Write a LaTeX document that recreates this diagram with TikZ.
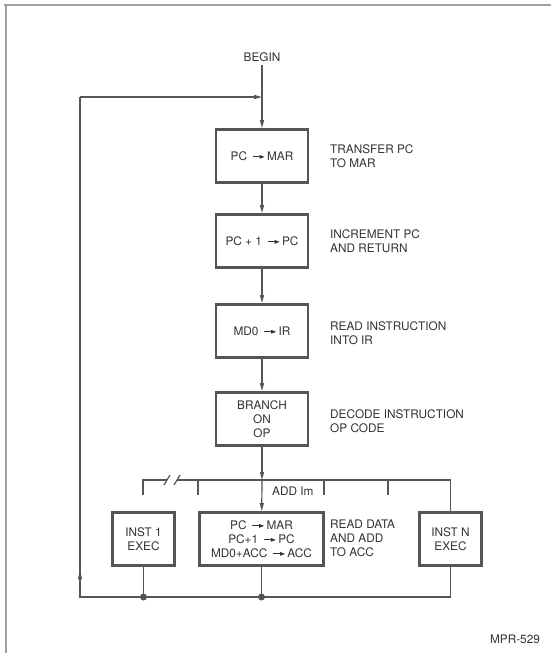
\documentclass[tikz,border=0pt]{standalone}
\usepackage{fontspec}
\setmainfont{TeX Gyre Heros}
\usetikzlibrary{arrows.meta, positioning}
\definecolor{inkgray}{HTML}{333333}
\definecolor{linegray}{HTML}{555555}
\definecolor{framegray}{HTML}{A0A0A0}
\newcommand{\xfer}{\,\tikz[baseline=-0.55ex]\draw[line width=0.9pt, -{Triangle[length=5pt,width=3.5pt]}] (0pt,0pt) -- (12pt,0pt);\,}

\begin{document}
\begin{tikzpicture}[x=1pt, y=-1pt,
  stepbox/.style={rectangle, draw=linegray, line width=2.8pt, minimum width=92pt, minimum height=53pt, font=\fontsize{11.8}{14}\selectfont, text=inkgray, align=center, inner sep=2pt},
  execbox/.style={stepbox, minimum width=62pt},
  lbl/.style={font=\fontsize{11.8}{14}\selectfont, text=inkgray, align=left, anchor=west, inner sep=0pt},
  wire/.style={draw=linegray, line width=1.2pt},
  flow/.style={wire, -{Triangle[length=8pt,width=4pt]}},
  junction/.style={circle, fill=linegray, inner sep=0pt, minimum size=7pt},
]
  \useasboundingbox (0,0) rectangle (551,653);
  \fill[white] (0,0) rectangle (551,653);

  % page frame
  \draw[framegray, line width=1.4pt] (4,5) -- (551,5);
  \draw[framegray, line width=1.4pt] (6,5) -- (6,653);

  % fetch sequence
  \node[text=inkgray, font=\fontsize{11.8}{14}\selectfont] (begin) at (262,57) {BEGIN};
  \node[stepbox] (fetch) at (262,156) {PC \xfer MAR};
  \node[stepbox] (incpc) at (262,241) {PC + 1 \xfer PC};
  \node[stepbox] (readir) at (262,331) {MD0 \xfer IR};
  \node[stepbox] (branch) at (262,419) {BRANCH\\ON\\OP};

  \node[lbl] (lfetch) at (330,156) {TRANSFER PC\\TO MAR};
  \node[lbl] (lincpc) at (330,241) {INCREMENT PC\\AND RETURN};
  \node[lbl] (lreadir) at (330,333) {READ INSTRUCTION\\INTO IR};
  \node[lbl] (lbranch) at (330,421) {DECODE INSTRUCTION\\OP CODE};

  % execute boxes
  \node[execbox] (inst1) at (143.5,539) {INST 1\\EXEC};
  \node[stepbox, minimum width=124pt] (addim) at (261.5,539) {PC \xfer MAR\\PC+1 \xfer PC\\MD0+ACC \xfer ACC};
  \node[execbox] (instn) at (450.5,539) {INST N\\EXEC};
  \node[lbl] (laddim) at (330,538) {READ DATA\\AND ADD\\TO ACC};
  \node[text=inkgray, font=\fontsize{11.8}{14}\selectfont, anchor=west, inner sep=0pt] (addlbl) at (272,491) {ADD Im};

  % op code bus
  \coordinate (entry) at (262,97);
  \coordinate (busmid) at (262,480);
  \coordinate (busl) at (143,480);
  \coordinate (busr) at (450.5,480);
  \coordinate (brkl) at (167,480);
  \coordinate (brkr) at (177,480);
  \coordinate (tick1) at (143,495);
  \coordinate (tick2a) at (198,480);
  \coordinate (tick2b) at (198,495);
  \coordinate (tick3a) at (324,480);
  \coordinate (tick3b) at (324,495);
  \coordinate (tick4a) at (388,480);
  \coordinate (tick4b) at (388,495);

  \draw[wire] (begin) -- (entry);
  \draw[flow] (entry) -- (fetch);
  \draw[flow] (fetch) -- (incpc);
  \draw[flow] (incpc) -- (readir);
  \draw[flow] (readir) -- (branch);
  \draw[flow] (branch) -- (busmid);
  \draw[flow] (busmid) -- (addim);

  \draw[wire] (tick1) -- (busl) -- (brkl);
  \draw[wire] (brkl) ++(-3,5) -- ++(6,-10);
  \draw[wire] (brkr) ++(-3,5) -- ++(6,-10);
  \draw[wire] (brkr) -- (busr) -- (instn);
  \draw[wire] (tick2a) -- (tick2b);
  \draw[wire] (tick3a) -- (tick3b);
  \draw[wire] (tick4a) -- (tick4b);

  % return path
  \coordinate (ret1) at (143.5,597);
  \coordinate (retadd) at (261.5,597);
  \coordinate (retr) at (450.5,597);
  \coordinate (retl) at (80,597);
  \coordinate (retup) at (80,571);
  \coordinate (rettop) at (80,97);

  \draw[wire] (inst1) -- (ret1);
  \draw[wire] (addim) -- (retadd);
  \draw[wire] (instn) -- (retr) -- (retl) -- (rettop);
  \draw[flow] (retl) -- (retup);
  \draw[flow] (rettop) -- (entry);
  \node[junction] (dot1) at (ret1) {};
  \node[junction] (dot2) at (retadd) {};

  \node[text=inkgray, font=\fontsize{11.8}{14}\selectfont] (figno) at (515,639) {MPR-529};
\end{tikzpicture}
\end{document}
